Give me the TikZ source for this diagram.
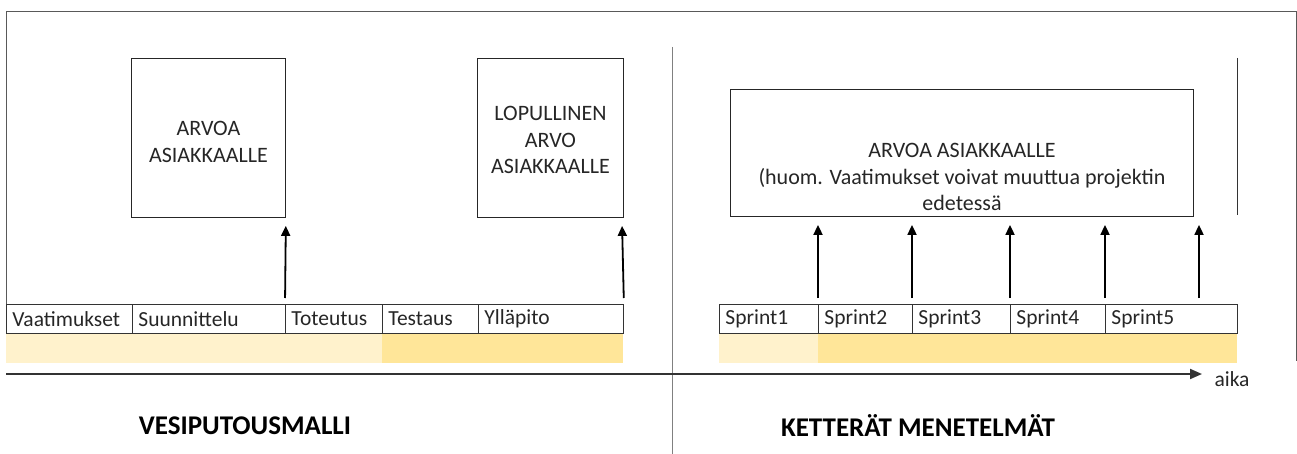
\documentclass[tikz,border=0pt]{standalone}
\usepackage{fontspec}
\setmainfont{Carlito}
\usetikzlibrary{arrows.meta,calc}
\definecolor{lightyel}{HTML}{FFF2CC}
\definecolor{darkyel}{HTML}{FFE699}
\definecolor{framegray}{HTML}{595959}
\definecolor{divgray}{HTML}{808080}
\tikzset{
  cell/.style={draw=black!80, line width=0.9pt, minimum height=29pt, inner xsep=6pt, inner ysep=0pt, anchor=north west, align=left, font=\fontsize{21.5}{24}\selectfont, text=black!85},
  valbox/.style={draw=black!85, line width=0.9pt, anchor=north west, inner sep=0pt},
  boxtext/.style={align=center, font=\fontsize{22}{26.5}\selectfont, text=black!85},
  band/.style={draw=none, inner sep=0pt, anchor=north west, minimum height=30pt},
  arr/.style={line width=1.8pt, -{Triangle[length=10pt,width=9pt]}, shorten <=6pt, shorten >=8pt},
  frame/.style={draw=framegray, line width=0.9pt},
  title/.style={font=\fontsize{27}{30}\selectfont\bfseries},
}
\begin{document}
\begin{tikzpicture}[x=1pt,y=-1pt]
\useasboundingbox (0,0) rectangle (1297,454);
% frame and divider
\coordinate (fbl) at (6,362);
\coordinate (ftl) at (6,11);
\coordinate (ftr) at (1296,11);
\coordinate (fbr) at (1296,361);
\draw[frame] (fbl) -- (ftl) -- (ftr) -- (fbr);
\coordinate (dtop) at (672,47);
\coordinate (dbot) at (672,454);
\draw[draw=divgray, line width=1pt] (dtop) -- (dbot);

% yellow bands
\node[band, fill=lightyel, minimum width=376pt] (yl1) at (6,333) {};
\node[band, fill=darkyel, minimum width=241pt] (yl2) at (382,333) {};
\node[band, fill=lightyel, minimum width=99pt] (yr1) at (719,333) {};
\node[band, fill=darkyel, minimum width=419pt] (yr2) at (818,333) {};

% waterfall cells
\node[cell, text width=114pt] (c1) at (6,304) {Vaatimukset};
\node[cell, text width=141pt] (c2) at (132,304) {Suunnittelu};
\node[cell, text width=85pt] (c3) at (285,304) {Toteutus};
\node[cell, text width=84pt] (c4) at (382,304) {Testaus};
\node[cell, text width=133pt] (c5) at (478,304) {Ylläpito};

% sprint cells
\node[cell, text width=87pt] (s1) at (719,304) {Sprint1};
\node[cell, text width=82pt] (s2) at (818,304) {Sprint2};
\node[cell, text width=86pt] (s3) at (912,304) {Sprint3};
\node[cell, text width=83pt] (s4) at (1010,304) {Sprint4};
\node[cell, text width=120pt] (s5) at (1105,304) {Sprint5};

% value boxes
\node[valbox, minimum width=154pt, minimum height=159pt] (b1) at (131,58) {};
\node[boxtext] (b1t) at ($(b1.center)+(0,4)$) {ARVOA\\ASIAKKAALLE};
\node[valbox, minimum width=146pt, minimum height=159pt] (b2) at (477,58) {};
\node[boxtext] (b2t) at ($(b2.center)+(0,2)$) {LOPULLINEN\\ARVO\\ASIAKKAALLE};
\node[valbox, minimum width=463pt, minimum height=127pt] (rb) at (730,89) {};
\node[boxtext] (rbt) at (962,177) {ARVOA ASIAKKAALLE\\(huom. Vaatimukset voivat muuttua projektin\\edetessä};

% stray line at right
\coordinate (vl1) at (1237,58);
\coordinate (vl2) at (1237,215);
\draw[draw=black!80, line width=0.9pt] (vl1) -- (vl2);

% arrows
\draw[arr] (c3.north west) -- (b1.south east);
\draw[arr] (c5.north east) -- ($(b2.south east)+(-2,0)$);
\draw[arr] (s2.north west) -- (s2.north west |- rb.south);
\draw[arr] (s3.north west) -- (s3.north west |- rb.south);
\draw[arr] (s4.north west) -- (s4.north west |- rb.south);
\draw[arr] (s5.north west) -- (s5.north west |- rb.south);
\coordinate (p5) at (1199,304);
\draw[arr] (p5) -- (p5 |- rb.south);

% time axis
\coordinate (ax0) at (6,374);
\coordinate (ax1) at (1202,374);
\draw[line width=2pt, draw=black!80, -{Triangle[length=12pt,width=10pt]}] (ax0) -- (ax1);
\node[font=\fontsize{21.5}{24}\selectfont, anchor=west, text=black!85] (aika) at (1211,379) {aika};

% titles
\node[title] (t1) at (245,426) {VESIPUTOUSMALLI};
\node[title] (t2) at (918,426) {KETTERÄT MENETELMÄT};
\end{tikzpicture}
\end{document}
